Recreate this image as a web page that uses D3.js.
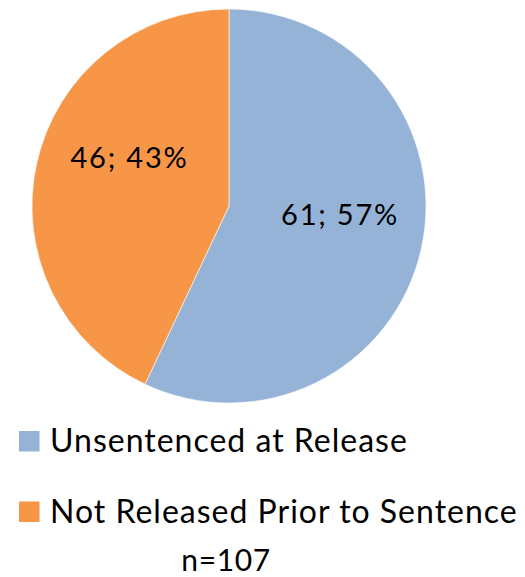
<!DOCTYPE html>
<html>
<head>
<meta charset="utf-8">
<script src="https://cdn.jsdelivr.net/npm/d3@7"></script>
<style>
  html, body { margin: 0; padding: 0; background: #fff; }
  svg text { font-family: Lato, "Open Sans", sans-serif; fill: #000; }
</style>
</head>
<body>
<svg id="chart" width="525" height="577"></svg>
<script>
// Release status of defendants
const categories = ["Unsentenced at Release", "Not Released Prior to Sentence"];
const counts = [61, 46];
const colors = ["#95B3D7", "#F79646"];
const totalLabel = "n=107";

const svg = d3.select("#chart");
const cx = 229, cy = 206, radius = 197;

const total = d3.sum(counts);
const data = categories.map((c, i) => ({ name: c, value: counts[i], color: colors[i] }));

const pie = d3.pie().sort(null).value(d => d.value);
const arc = d3.arc().innerRadius(0).outerRadius(radius);
const arcs = pie(data);

const g = svg.append("g").attr("transform", `translate(${cx},${cy})`);

g.selectAll("path.slice")
  .data(arcs)
  .join("path")
  .attr("class", "slice")
  .attr("d", arc)
  .attr("fill", d => d.data.color)
  .attr("stroke", "#fff")
  .attr("stroke-width", 0.6);

// data labels: count; percent, placed inside each slice
const labelRadius = 0.565 * radius;
const angleShift = [-9, 14].map(a => a * Math.PI / 180);
g.selectAll("text.label")
  .data(arcs)
  .join("text")
  .attr("class", "label")
  .attr("text-anchor", "middle")
  .attr("dominant-baseline", "central")
  .attr("font-size", 29)
  .attr("letter-spacing", 1.8)
  .attr("transform", (d, i) => {
    const a = (d.startAngle + d.endAngle) / 2 + angleShift[i];
    return `translate(${labelRadius * Math.sin(a)},${-labelRadius * Math.cos(a)})`;
  })
  .text(d => `${d.data.value}; ${Math.round(d.data.value / total * 100)}%`);

// legend
const legend = svg.append("g").attr("transform", "translate(19,431)");
const rowGap = 70.5;
const items = legend.selectAll("g.item")
  .data(data)
  .join("g")
  .attr("class", "item")
  .attr("transform", (d, i) => `translate(0,${i * rowGap})`);

items.append("rect")
  .attr("width", 20.5)
  .attr("height", 20.5)
  .attr("fill", d => d.color);

items.append("text")
  .attr("x", 31)
  .attr("y", 21)
  .attr("font-size", 32)
  .attr("letter-spacing", 1)
  .text(d => d.name);

// sample size note
svg.append("text")
  .attr("x", 226)
  .attr("y", 571)
  .attr("text-anchor", "middle")
  .attr("font-size", 30)
  .attr("letter-spacing", 0.6)
  .text(totalLabel);
</script>
</body>
</html>
